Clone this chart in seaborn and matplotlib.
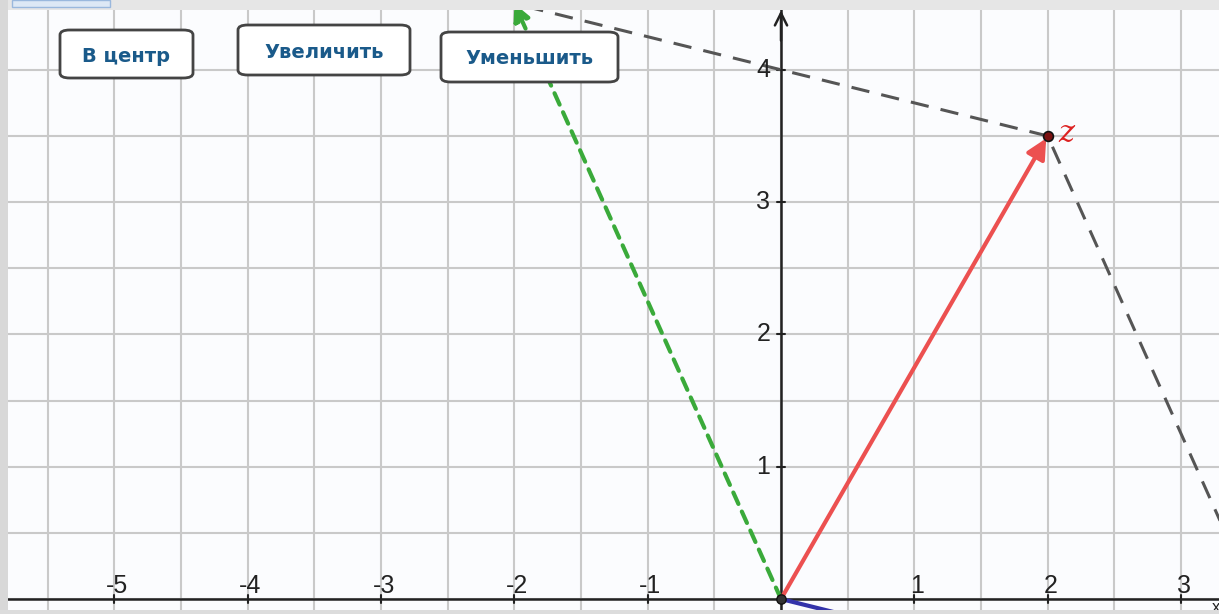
import numpy as np
import pandas as pd
import matplotlib
matplotlib.use("Agg")
import matplotlib.pyplot as plt
import seaborn as sns
from matplotlib.patches import FancyBboxPatch, Rectangle

# ---- data ----
z_vec = [2.0, 3.5]
green_vec = [-2.0, 4.5]
blue_vec = [0.5, -0.125]
dash_x = [-2.6, 2.0, 3.45]
dash_y = [4.65, 3.5, 0.24]
x_ticks = [-5, -4, -3, -2, -1, 1, 2, 3]
y_ticks = [1, 2, 3, 4]
buttons = ["В центр", "Увеличить", "Уменьшить"]

sns.set_style("white")
plt.rcParams['font.family'] = ['Liberation Sans', 'DejaVu Sans']

W, H = 1219, 614
fig = plt.figure(figsize=(W / 100, H / 100), dpi=100)
fig.patch.set_facecolor("#fbfcfe")
ax = fig.add_axes([0, 0, 1, 1])
ax.set_facecolor("#fbfcfe")

ux, uy = 133.3, 132.3
ox, oy = 781, 599
ax.set_xlim(-ox / ux, (W - ox) / ux)
ax.set_ylim(-(H - oy) / uy, oy / uy)
for s in ax.spines.values():
    s.set_visible(False)
ax.set_xticks([]); ax.set_yticks([])

# grid every 0.5
for gx in np.arange(-6, 3.6, 0.5):
    ax.axvline(gx, color="#c9c9c9", lw=1.5, zorder=0)
for gy in np.arange(0, 4.6, 0.5):
    ax.axhline(gy, color="#c9c9c9", lw=1.5, zorder=0)

# axes
ax.axhline(0, color="#222222", lw=1.8, zorder=2)
ax.axvline(0, color="#222222", lw=1.8, zorder=2)
ax.annotate("", xy=(0, 4.47), xytext=(0, 4.2),
            arrowprops=dict(arrowstyle="->", color="#222222", lw=1.8, mutation_scale=22), zorder=3)
ax.text(3.235, -0.01, "x", fontsize=12, ha="left", va="top", color="#222222")

for t in x_ticks:
    ax.plot([t, t], [-0.03, 0.03], color="#222222", lw=1.5, zorder=3)
    ax.text(t + 0.02, 0.005, str(t), fontsize=18, ha="center", va="bottom", color="#222222", zorder=4)
for t in y_ticks:
    ax.plot([-0.03, 0.03], [t, t], color="#222222", lw=1.5, zorder=3)
    ax.text(-0.08, t, str(t), fontsize=18, ha="right", va="center", color="#222222", zorder=4)

# dashed gray polyline
df = pd.DataFrame({"x": dash_x, "y": dash_y})
sns.lineplot(data=df, x="x", y="y", sort=False, color="#555555", lw=2.2,
             linestyle=(0, (6, 4)), ax=ax, zorder=3)
ax.set_xlabel(""); ax.set_ylabel("")

# green dashed vector
ax.annotate("", xy=(green_vec[0], green_vec[1]), xytext=(0, 0),
            arrowprops=dict(arrowstyle="-|>", color="#3aaa3a", lw=3, linestyle=(0, (3, 2)),
                            mutation_scale=25, shrinkA=0, shrinkB=0), zorder=4)
# blue vector
ax.plot([0, blue_vec[0]], [0, blue_vec[1]], color="#3333aa", lw=3, zorder=4)
# red vector
ax.annotate("", xy=(z_vec[0], z_vec[1]), xytext=(0, 0),
            arrowprops=dict(arrowstyle="-|>", color="#ec5050", lw=3,
                            mutation_scale=30, shrinkA=0, shrinkB=2), zorder=5)
ax.scatter([z_vec[0]], [z_vec[1]], s=50, color="#7a1010", edgecolor="#111111", lw=1.2, zorder=6)
ax.text(z_vec[0] + 0.08, z_vec[1] + 0.02, "z", color="#dd2222", fontsize=22,
        fontstyle="italic", family="DejaVu Serif", ha="left", va="center", zorder=6)
ax.scatter([0], [0], s=45, color="#333333", edgecolor="#111111", zorder=6)

# buttons (pixel boxes)
boxes = [(60, 30, 133, 48), (238, 25, 172, 50), (441, 32, 177, 50)]
for (bx, by, bw, bh), label in zip(boxes, buttons):
    p = FancyBboxPatch((bx / W, 1 - (by + bh) / H), bw / W, bh / H,
                       boxstyle="round,pad=0,rounding_size=0.008",
                       transform=fig.transFigure, facecolor="white",
                       edgecolor="#444444", lw=2, zorder=10)
    fig.patches.append(p)
    fig.text((bx + bw / 2) / W, 1 - (by + bh / 2 + 2) / H, label, fontsize=14,
             fontweight="bold", family="DejaVu Sans", color="#1a5a8a",
             ha="center", va="center", zorder=11)

# top toolbar strip and left border
fig.patches.append(Rectangle((0, 1 - 10 / H), 1, 10 / H, transform=fig.transFigure,
                             facecolor="#e6e6e6", edgecolor="none", zorder=12))
fig.patches.append(Rectangle((12 / W, 1 - 7 / H), 98 / W, 7 / H, transform=fig.transFigure,
                             facecolor="#dde8f5", edgecolor="#9ab8dd", lw=1, zorder=13))
fig.patches.append(Rectangle((0, 0), 8 / W, 1, transform=fig.transFigure,
                             facecolor="#d8d8d8", edgecolor="none", zorder=12))
fig.patches.append(Rectangle((0, 0), 1, 4 / H, transform=fig.transFigure,
                             facecolor="#dcdcdc", edgecolor="none", zorder=12))

fig.savefig("out.png", dpi=100)
